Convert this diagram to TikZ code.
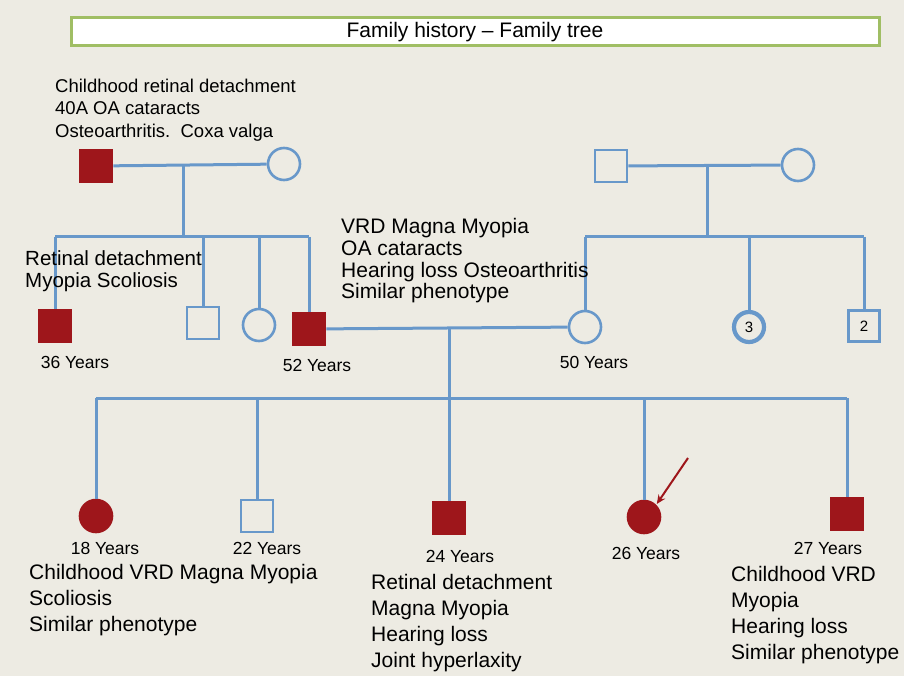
\documentclass[tikz,border=0pt]{standalone}
\usepackage{fontspec}
\setmainfont{Liberation Sans}
\usepackage{tikz}
\usetikzlibrary{arrows.meta}
\definecolor{pedblue}{RGB}{104,152,202}
\definecolor{affred}{RGB}{158,22,27}
\definecolor{paper}{RGB}{237,235,227}
\definecolor{boxgreen}{RGB}{160,190,100}
\tikzstyle{kin}      = [draw=pedblue, line width=3pt]
\tikzstyle{probarr}  = [draw=affred, line width=2pt, -{Stealth[length=9pt,width=8pt]}, shorten >=1pt]

\begin{document}
\begin{tikzpicture}[x=1pt, y=-1pt,
    male/.style={rectangle, draw=pedblue, line width=2.6pt, minimum size=32pt,
                 inner sep=0pt, fill=paper},
    female/.style={circle, draw=pedblue, line width=2.6pt, minimum size=32pt,
                   inner sep=0pt, fill=paper},
    aff/.style={fill=affred, draw=affred},
    age/.style={inner sep=0pt, font=\fontsize{17.5}{20}\selectfont},
    note/.style={align=left, anchor=west, inner sep=0pt,
                 font=\fontsize{21}{25.8}\selectfont},
    titlebox/.style={rectangle, draw=boxgreen, line width=3pt, fill=white,
                     minimum width=808pt, minimum height=28pt,
                     font=\fontsize{21}{24}\selectfont}]

  \path[use as bounding box, fill=paper] (0,0) rectangle (904,676);

  \node[titlebox] (title) at (475,32) {Family history -- Family tree};

  \node[male,aff]   (gf)       at (96,166)  {};
  \node[female]     (gm)       at (284,164) {};
  \node[male]       (mgf)      at (611,166) {};
  \node[female]     (mgm)      at (798,165) {};

  \node[male,aff]   (uncle)    at (55,326)  {};
  \node[male]       (uncleb)   at (203,323) {};
  \node[female]     (aunt)     at (259,325) {};
  \node[male,aff]   (father)   at (309,329) {};
  \node[female]     (mother)   at (585,327) {};
  \node[female, line width=4.2pt, minimum size=30pt,
        font=\fontsize{15}{17}\selectfont] (sisters)  at (749,327) {3};
  \node[male, minimum size=31pt,
        font=\fontsize{15}{17}\selectfont] (brothers) at (864,326) {2};

  \node[female,aff] (d18)      at (96,516)  {};
  \node[male]       (s22)      at (257,516) {};
  \node[male,aff]   (s24)      at (449,518) {};
  \node[female,aff] (d26)      at (644,517) {};
  \node[male,aff]   (s27)      at (847,514) {};

  \coordinate (m1)  at (183,166);
  \coordinate (k1)  at (183,237);
  \coordinate (k1l) at (55,237);
  \coordinate (k1r) at (309,237);
  \coordinate (m2)  at (707,166);
  \coordinate (k2)  at (707,237);
  \coordinate (k2l) at (585,237);
  \coordinate (k2r) at (864,237);
  \coordinate (m3)  at (449,328);
  \coordinate (k3)  at (449,398);
  \coordinate (k3l) at (96,398);
  \coordinate (k3r) at (847,398);
  \coordinate (pa)  at (688,458);

  \draw[kin] (gf) -- (gm);
  \draw[kin] (m1) -- (k1);
  \draw[kin] (k1l) -- (k1r);
  \foreach \c in {uncle, uncleb, aunt, father}
    \draw[kin] (\c.north |- k1l) -- (\c.north);

  \draw[kin] (mgf) -- (mgm);
  \draw[kin] (m2) -- (k2);
  \draw[kin] (k2l) -- (k2r);
  \foreach \c in {mother, sisters, brothers}
    \draw[kin] (\c.north |- k2l) -- (\c.north);

  \draw[kin] (father) -- (mother);
  \draw[kin] (m3) -- (k3);
  \draw[kin] (k3l) -- (k3r);
  \foreach \c in {d18, s22, s24, d26, s27}
    \draw[kin] (\c.north |- k3l) -- (\c.north);

  \draw[probarr] (pa) -- (d26.north east);

  \node[note, font=\fontsize{18.5}{22.5}\selectfont] (gfnote) at (55,110)
    {Childhood retinal detachment\\40A OA cataracts\\Osteoarthritis.\ \ Coxa valga};
  \node[note, font=\fontsize{20.5}{22}\selectfont] (unclenote) at (25,271)
    {Retinal detachment\\Myopia Scoliosis};
  \node[note, font=\fontsize{21}{21.7}\selectfont] (fathernote) at (341,261)
    {VRD Magna Myopia\\OA cataracts\\Hearing loss Osteoarthritis\\Similar phenotype};

  \node[age] (a36) at (75,362)  {36 Years};
  \node[age] (a52) at (317,365) {52 Years};
  \node[age] (a50) at (594,362) {50 Years};
  \node[age] (a18) at (105,548) {18 Years};
  \node[age] (a22) at (267,548) {22 Years};
  \node[age] (a24) at (460,556) {24 Years};
  \node[age] (a26) at (646,553) {26 Years};
  \node[age] (a27) at (828,548) {27 Years};

  \node[note] (d18note) at (29,600)
    {Childhood VRD Magna Myopia\\Scoliosis\\Similar phenotype};
  \node[note] (s24note) at (371,623)
    {Retinal detachment\\Magna Myopia\\Hearing loss\\Joint hyperlaxity};
  \node[note] (s27note) at (731,615)
    {Childhood VRD\\Myopia\\Hearing loss\\Similar phenotype};
\end{tikzpicture}
\end{document}
